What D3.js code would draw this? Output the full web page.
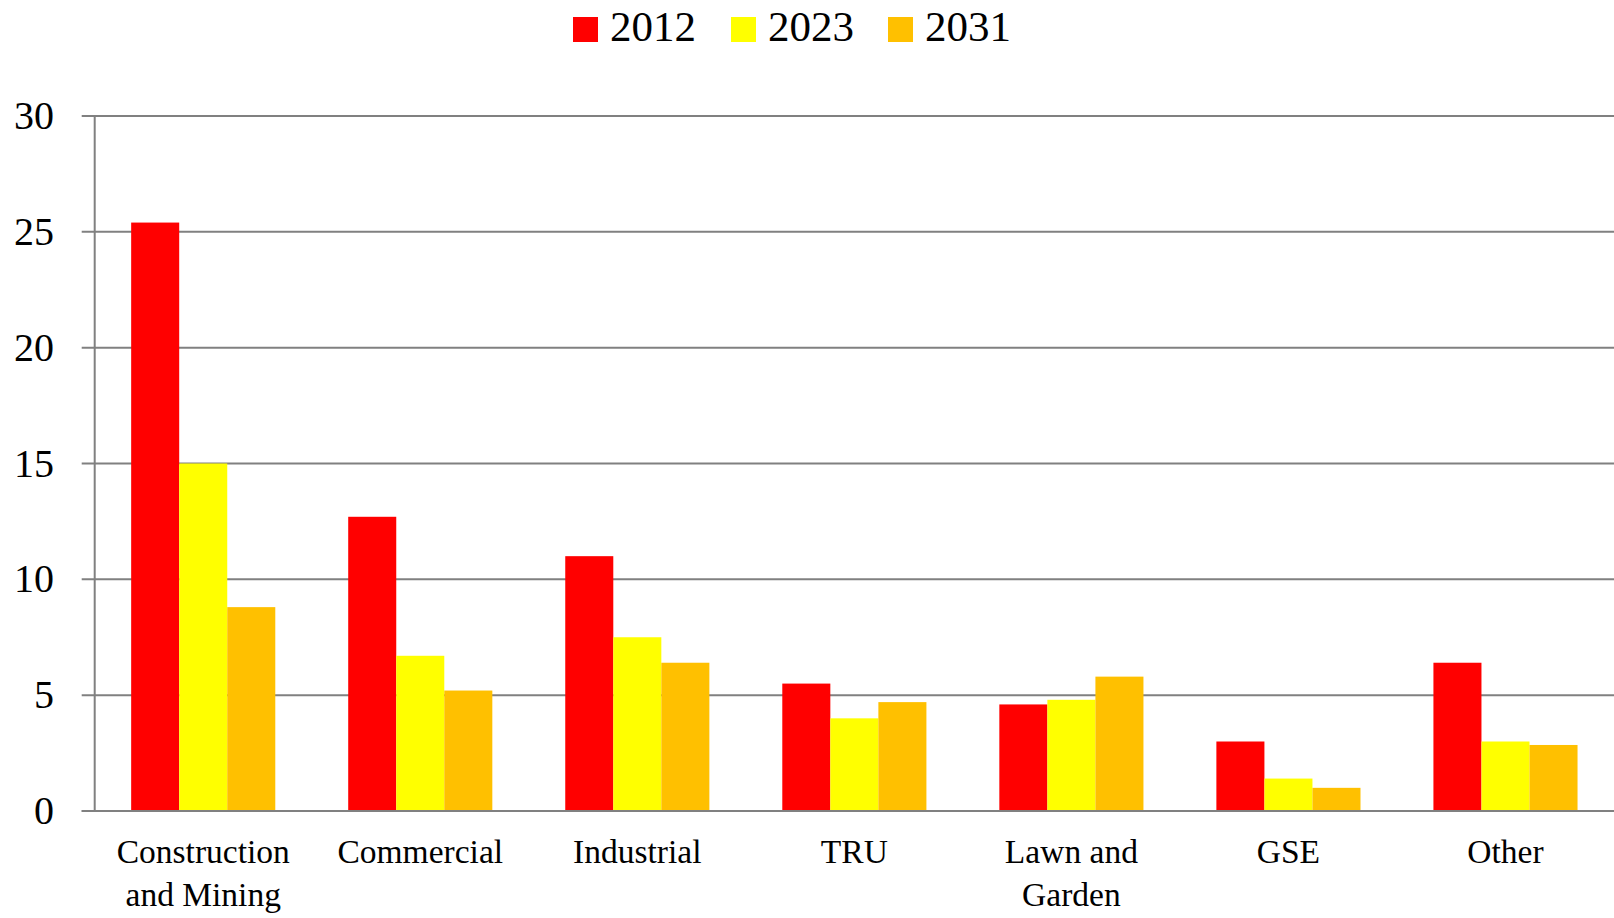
<!DOCTYPE html>
<meta charset='utf-8'>
<head>
    <title>Bars</title>
    <script src='https://cdn.jsdelivr.net/npm/d3@7/dist/d3.min.js'></script>
</head>

<style>
    body { margin: 0; background: #fff; }
    text { font-family: 'Liberation Serif', 'DejaVu Serif', serif; fill: #000; }
    .grid line { stroke: #808080; stroke-width: 2px; }
</style>

<svg></svg>

<script>
    var vWidth = 1614;
    var vHeight = 918;

    var categories = [['Construction', 'and Mining'], ['Commercial'], ['Industrial'], ['TRU'],
        ['Lawn and', 'Garden'], ['GSE'], ['Other']];
    var series = ['2012', '2023', '2031'];
    var colors = ['#FF0000', '#FFFF00', '#FFC000'];
    var values2012 = [25.4, 12.7, 11.0, 5.5, 4.6, 3.0, 6.4];
    var values2023 = [15.0, 6.7, 7.5, 4.0, 4.8, 1.4, 3.0];
    var values2031 = [8.8, 5.2, 6.4, 4.7, 5.8, 1.0, 2.85];
    var yTicks = [0, 5, 10, 15, 20, 25, 30];

    var vValues = [values2012, values2023, values2031];

    var svg = d3.select('svg').attr('width', vWidth).attr('height', vHeight);

    var pLeft = 94.7, pRight = 1614, pTop = 116, pBottom = 811;

    var x0 = d3.scaleBand().domain(d3.range(categories.length))
        .range([pLeft, pRight]).paddingInner(0.336).paddingOuter(0.168);
    var x1 = d3.scaleBand().domain(series).range([0, x0.bandwidth()]);
    var y = d3.scaleLinear().domain([0, 30]).range([pBottom, pTop]);

    // horizontal gridlines + tick stubs
    var grid = svg.append('g').attr('class', 'grid');
    grid.selectAll('line').data(yTicks).enter().append('line')
        .attr('x1', pLeft - 13).attr('x2', pRight)
        .attr('y1', function (d) { return y(d); })
        .attr('y2', function (d) { return y(d); });

    // y labels
    svg.append('g').selectAll('text').data(yTicks).enter().append('text')
        .attr('x', 54).attr('y', function (d) { return y(d) + 13; })
        .attr('text-anchor', 'end').style('font-size', '40px')
        .text(function (d) { return d; });

    // bars
    var groups = svg.append('g').selectAll('g').data(categories).enter().append('g')
        .attr('transform', function (d, i) { return 'translate(' + x0(i) + ',0)'; });
    groups.selectAll('rect').data(function (d, i) {
        return series.map(function (s, j) { return {s: s, j: j, v: vValues[j][i]}; });
    }).enter().append('rect')
        .attr('x', function (d) { return x1(d.s); })
        .attr('width', x1.bandwidth())
        .attr('y', function (d) { return y(d.v); })
        .attr('height', function (d) { return y(0) - y(d.v); })
        .attr('fill', function (d) { return colors[d.j]; });

    // axis lines drawn over bars
    svg.append('line').attr('x1', pLeft).attr('x2', pLeft).attr('y1', pTop).attr('y2', pBottom + 1)
        .attr('stroke', '#808080').attr('stroke-width', 2);
    svg.append('line').attr('x1', pLeft - 13).attr('x2', pRight).attr('y1', pBottom).attr('y2', pBottom)
        .attr('stroke', '#808080').attr('stroke-width', 2);

    // category labels
    groups.each(function (d) {
        var t = d3.select(this).append('text')
            .attr('x', x0.bandwidth() / 2).attr('y', 863)
            .attr('text-anchor', 'middle').style('font-size', '33.5px');
        d.forEach(function (line, k) {
            t.append('tspan').attr('x', x0.bandwidth() / 2).attr('dy', k === 0 ? 0 : 43).text(line);
        });
    });

    // legend
    var legendX = [573, 731, 888];
    var legend = svg.append('g').selectAll('g').data(series).enter().append('g')
        .attr('transform', function (d, i) { return 'translate(' + legendX[i] + ',0)'; });
    legend.append('rect').attr('x', 0).attr('y', 17).attr('width', 25).attr('height', 25)
        .attr('fill', function (d, i) { return colors[i]; });
    legend.append('text').attr('x', 37).attr('y', 41).style('font-size', '43px')
        .text(function (d) { return d; });
</script>
